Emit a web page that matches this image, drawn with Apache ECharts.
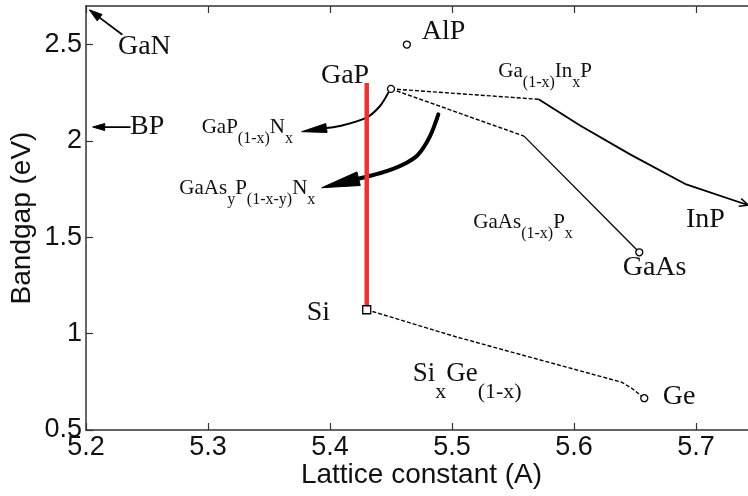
<!DOCTYPE html>
<html>
<head>
<meta charset="utf-8">
<script src="https://cdn.jsdelivr.net/npm/echarts@6/dist/echarts.min.js"></script>
<style>
  html, body { margin: 0; padding: 0; background: #fff; }
  #chart { width: 748px; height: 496px; }
</style>
</head>
<body>
<div id="chart"></div>
<script>
// ---- Data: lattice constant (A) vs bandgap (eV) ----

// End-point compounds
const compoundNames   = ['GaP', 'AlP', 'GaAs', 'Si', 'Ge'];
const compoundLattice = [5.450, 5.463, 5.6535, 5.4301, 5.6576];
const compoundGap     = [2.270, 2.500, 1.422, 1.124, 0.665];

// Alloy curves, [lattice, bandgap]; dashed parts are the indirect-gap ranges
const gaInPIndirect = [[5.450, 2.270], [5.571, 2.216]];
const gaInPDirect   = [[5.571, 2.216], [5.605, 2.080], [5.646, 1.930], [5.692, 1.774], [5.743, 1.666]];
const gaAsPIndirect = [[5.450, 2.270], [5.559, 2.025]];
const gaAsPDirect   = [[5.559, 2.025], [5.6535, 1.422]];
const siGeIndirect  = [[5.4301, 1.124], [5.5025, 0.985], [5.557, 0.890], [5.639, 0.748], [5.6473, 0.717], [5.6576, 0.665]];

// Compositions lattice-matched to Si
const siMatched = [[5.4301, 1.124], [5.4301, 2.300]];

// Pointer paths, tail first, tip last
const gaNPointer   = [[5.2293, 2.553], [5.2027, 2.680]];
const bpPointer    = [[5.2360, 2.072], [5.2055, 2.072]];
const gaPNPath     = [[5.4478, 2.2505], [5.441, 2.181], [5.430, 2.121], [5.408, 2.077], [5.3768, 2.048]];
const gaAsPNPath   = [[5.4888, 2.138], [5.482, 2.025], [5.4724, 1.930], [5.4629, 1.887], [5.4465, 1.843], [5.430, 1.814], [5.3932, 1.757]];

// Annotation text (_{...} marks a subscript) and their left-middle anchors
const labelTexts = ['GaN', 'BP', 'GaP', 'AlP', 'InP', 'GaAs', 'Si', 'Ge',
  'Si_{x}Ge_{(1-x)}', 'GaP_{(1-x)}N_{x}', 'GaAs_{y}P_{(1-x-y)}N_{x}', 'Ga_{(1-x)}In_{x}P', 'GaAs_{(1-x)}P_{x}'];
const labelAnchors = [[5.2262, 2.4886], [5.2361, 2.0727], [5.3926, 2.3404], [5.4752, 2.5681], [5.6918, 1.5902],
  [5.6399, 1.3407], [5.3809, 1.1109], [5.6727, 0.6731], [5.4678, 0.7911], [5.2948, 2.0711], [5.2765, 1.7540],
  [5.538, 2.3602], [5.5175, 1.5788]];

// ---- Styling ----
const SERIF = 'Liberation Serif, Times New Roman, serif';
const SANS = 'Liberation Sans, Arial, sans-serif';
const INK = '#111';
const AXIS = '#333';

const labelSize = ['big', 'big', 'big', 'big', 'big', 'big', 'big', 'big', 'sige', 'mid', 'mid', 'mid', 'mid'];
const textSizes = {
  big:  { main: 28, sub: 20, drop: 30 },
  mid:  { main: 21, sub: 16, drop: 23 },
  sige: { main: 27, sub: 22, drop: 37 }
};

const pointers = [
  { path: gaNPointer,  width: 1.8, head: 13, half: 4,   smooth: 0,   open: false },
  { path: bpPointer,   width: 1.8, head: 12, half: 3.5, smooth: 0,   open: false },
  { path: gaPNPath,    width: 2.0, head: 25, half: 4.5, smooth: 0.3, open: false },
  { path: gaAsPNPath,  width: 4.0, head: 38, half: 7,   smooth: 0.3, open: false },
  { path: gaInPDirect.slice(-2), width: 0, head: 9, half: 4, smooth: 0, open: true }
];

function toRich(s) {
  let out = '';
  s.replace(/_\{([^}]*)\}|([^_]+)/g, (m, sub, main) => {
    out += sub !== undefined ? '{s|' + sub + '}' : '{m|' + main + '}';
    return m;
  });
  return out;
}

function renderLabel(params, api) {
  const i = params.dataIndex;
  const p = api.coord(labelAnchors[i]);
  const sz = textSizes[labelSize[i]];
  return {
    type: 'text',
    x: p[0], y: p[1],
    style: {
      text: toRich(labelTexts[i]),
      fontFamily: SERIF, fontSize: sz.main, fill: INK,
      align: 'left', verticalAlign: 'middle',
      rich: {
        m: { fontFamily: SERIF, fontSize: sz.main, fill: INK },
        s: { fontFamily: SERIF, fontSize: sz.sub, fill: INK, padding: [sz.drop, 0, 0, 0] }
      }
    }
  };
}

function renderPointer(params, api) {
  const spec = pointers[params.dataIndex];
  const pts = spec.path.map(d => api.coord(d));
  const n = pts.length;
  const tip = pts[n - 1], prev = pts[n - 2];
  let dx = tip[0] - prev[0], dy = tip[1] - prev[1];
  const len = Math.hypot(dx, dy);
  dx /= len; dy /= len;
  const nx = -dy, ny = dx;
  const bx = tip[0] - dx * spec.head, by = tip[1] - dy * spec.head;
  const children = [];
  if (spec.open) {
    children.push({
      type: 'polyline',
      shape: { points: [[bx + nx * spec.half, by + ny * spec.half], tip, [bx - nx * spec.half, by - ny * spec.half]] },
      style: { stroke: '#000', lineWidth: 1.5, fill: null }
    });
  } else {
    const linePts = pts.slice(0, n - 1).concat([[bx + dx * 3, by + dy * 3]]);
    children.push({
      type: 'polyline',
      shape: { points: linePts, smooth: spec.smooth },
      style: { stroke: '#000', lineWidth: spec.width, fill: null, lineCap: 'round', lineJoin: 'round' }
    });
    children.push({
      type: 'polygon',
      shape: { points: [tip, [bx + nx * spec.half, by + ny * spec.half], [bx - nx * spec.half, by - ny * spec.half]] },
      style: { fill: '#000', stroke: '#000', lineWidth: 1 }
    });
  }
  return { type: 'group', children };
}

function curve(data, dashed, width, z) {
  return {
    type: 'line', data, symbol: 'none', silent: true, z: z || 2,
    lineStyle: { color: '#000', width, type: dashed ? [4, 2] : 'solid' }
  };
}

const axisLineStyle = { color: AXIS, width: 1.5 };
const frameAxis = {
  type: 'value', axisLine: { onZero: false, lineStyle: axisLineStyle },
  axisTick: { inside: true, length: 7, lineStyle: { color: AXIS, width: 1.2 } },
  axisLabel: { show: false }, splitLine: { show: false }
};

const chart = echarts.init(document.getElementById('chart'), null, { renderer: 'canvas' });
chart.setOption({
  animation: false,
  backgroundColor: '#fff',
  grid: { left: 86, right: -9, top: 6, bottom: 66, containLabel: false, outerBoundsMode: 'none' },
  xAxis: [
    {
      type: 'value', min: 5.2, max: 5.75, interval: 0.1, position: 'bottom',
      name: 'Lattice constant (A)', nameLocation: 'middle', nameGap: 31, nameMoveOverlap: false,
      nameTextStyle: { fontFamily: SANS, fontSize: 28, color: INK },
      axisLine: { onZero: false, lineStyle: axisLineStyle },
      axisTick: { inside: true, length: 7, lineStyle: { color: AXIS, width: 1.2 } },
      axisLabel: { fontFamily: SANS, fontSize: 27, color: INK, margin: 4, showMaxLabel: false, hideOverlap: false },
      splitLine: { show: false }
    },
    Object.assign({}, frameAxis, { min: 5.2, max: 5.75, interval: 0.1, position: 'top' })
  ],
  yAxis: [
    {
      type: 'value', min: 0.5, max: 2.7, interval: 0.5, position: 'left',
      name: 'Bandgap (eV)', nameLocation: 'middle', nameGap: 50, nameMoveOverlap: false,
      nameTextStyle: { fontFamily: SANS, fontSize: 28, color: INK },
      axisLine: { onZero: false, lineStyle: axisLineStyle },
      axisTick: { inside: true, length: 7, lineStyle: { color: AXIS, width: 1.2 } },
      axisLabel: { fontFamily: SANS, fontSize: 27, color: INK, margin: 4, showMaxLabel: false, hideOverlap: false },
      splitLine: { show: false }
    },
    Object.assign({}, frameAxis, { min: 0.5, max: 2.7, interval: 0.5, position: 'right' })
  ],
  series: [
    curve(gaInPIndirect, true, 1.4),
    curve(gaInPDirect, false, 1.8),
    curve(gaAsPIndirect, true, 1.4),
    curve(gaAsPDirect, false, 1.3),
    curve(siGeIndirect, true, 1.4),
    {
      type: 'custom', renderItem: renderPointer, silent: true, z: 3,
      data: pointers.map(p => p.path[p.path.length - 1])
    },
    {
      type: 'line', data: siMatched, symbol: 'none', silent: true, z: 4,
      lineStyle: { color: '#ec3232', width: 4.5 }
    },
    {
      type: 'scatter', silent: true, z: 5,
      data: compoundNames.map((name, i) => ({
        name,
        value: [compoundLattice[i], compoundGap[i]],
        symbol: name === 'Si' ? 'rect' : 'circle',
        symbolSize: name === 'Si' ? 8 : 7
      })),
      itemStyle: { color: '#fff', borderColor: '#000', borderWidth: 1.3, opacity: 1 }
    },
    {
      type: 'custom', renderItem: renderLabel, silent: true, z: 6,
      data: labelAnchors
    }
  ]
});
</script>
</body>
</html>
